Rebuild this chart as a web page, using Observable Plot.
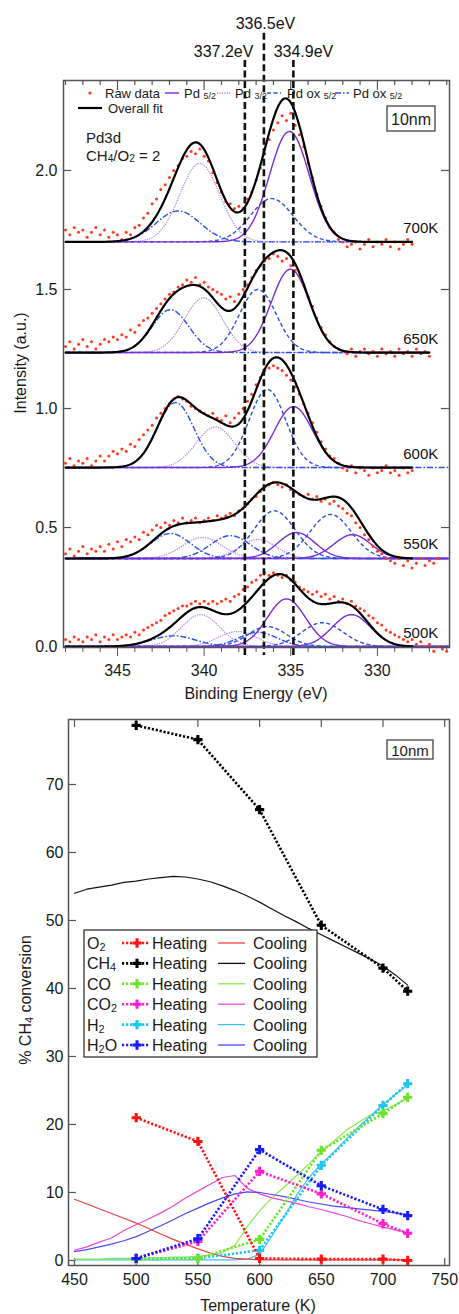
<!DOCTYPE html>
<html><head><meta charset="utf-8">
<script src="https://cdn.jsdelivr.net/npm/d3@7"></script>
<script src="https://cdn.jsdelivr.net/npm/@observablehq/plot@0.6"></script>
<style>
body{margin:0;background:#fff;font-family:"Liberation Sans",Arial,sans-serif}
#wrap{width:459px}
svg{display:block}
</style></head><body><div id="wrap"></div>
<script>
// ---------------- TOP PANEL DATA (XPS Pd3d) ----------------
const temps = ["700K","650K","600K","550K","500K"];
const baselines = [1.70, 1.235, 0.752, 0.37, 0];
const fitEnd = [328, 327, 328, 328, 328];
const compEnd = [328, 327, 328, 325.9, 325.9];
const dashDotEnd = [328, 327, 325.9, 325.9, 325.9];
const rawStart = 348, rawStep = 0.25;

// fitted peaks: [component, centre eV, height, FWHM eV]
const peaks700 = [["p52",335.08,0.464,2.7],["p32",340.25,0.33,2.7],["ox52",336.1,0.182,2.9],["ox32",341.5,0.13,3.0]];
const peaks650 = [["p52",335.02,0.35,2.6],["p32",340.04,0.23,2.6],["ox52",336.9,0.265,2.5],["ox32",341.94,0.18,2.5]];
const peaks600 = [["p52",334.84,0.256,2.6],["p32",339.35,0.17,2.6],["ox52",336.35,0.328,2.5],["ox32",341.65,0.273,2.5]];
const peaks550 = [["p52",334.67,0.109,2.5],["p52",331.44,0.10,2.5],["p32",340.1,0.088,2.7],["p32",336.9,0.08,2.5],["ox52",335.94,0.20,2.8],["ox52",332.7,0.185,2.8],["ox32",341.94,0.105,2.7],["ox32",338.48,0.096,2.7]];
const peaks500 = [["p52",335.25,0.20,2.6],["p52",331.5,0.134,2.6],["p32",340.2,0.134,2.6],["p32",338.08,0.063,2.6],["ox52",336.35,0.084,2.6],["ox52",333.17,0.10,2.8],["ox32",341.77,0.045,3.0],["ox32",336.9,0.06,2.6]];

// raw data, from 348 eV downward in 0.25 eV steps
const raw700 = [1.75,1.73,1.76,1.74, 1.75,1.72,1.74,1.76, 1.73,1.75,1.72,1.74, 1.73,1.71,1.74,1.73,
 1.76,1.77,1.80,1.82, 1.86,1.88,1.92,1.94, 1.97,2.00,2.02,2.05, 2.06,2.08,2.07,2.09, 2.06,2.04,1.99,1.95,
 1.91,1.87,1.86,1.84, 1.85,1.84,1.88,1.91, 1.96,2.01,2.07,2.13, 2.17,2.20,2.23,2.21, 2.24,2.19,2.15,2.10,
 2.03,1.97,1.90,1.85, 1.80,1.76,1.74,1.71, 1.70,1.68,1.69,1.70, 1.67,1.69,1.71,1.68, 1.70,1.69,1.71,1.68,
 1.70,1.67,1.69,1.71, 1.69];
const raw650 = [1.26,1.28,1.25,1.27, 1.29,1.26,1.28,1.25, 1.27,1.29,1.28,1.30, 1.29,1.31,1.30,1.33,
 1.32,1.35,1.37,1.38, 1.40,1.42,1.44,1.46, 1.48,1.49,1.51,1.52, 1.54,1.53,1.55,1.52, 1.53,1.51,1.50,1.49,
 1.48,1.46,1.47,1.45, 1.48,1.50,1.52,1.55, 1.58,1.60,1.62,1.63, 1.65,1.64,1.62,1.63, 1.60,1.58,1.56,1.52,
 1.47,1.43,1.38,1.34, 1.31,1.28,1.26,1.25, 1.24,1.23,1.25,1.22, 1.24,1.25,1.23,1.24, 1.22,1.25,1.23,1.24,
 1.22,1.25,1.23,1.24, 1.22,1.25,1.23,1.24, 1.22];
const raw600 = [0.77,0.79,0.76,0.78, 0.77,0.79,0.76,0.78, 0.80,0.78,0.80,0.82, 0.81,0.83,0.82,0.85,
 0.84,0.87,0.89,0.91, 0.93,0.96,0.98,1.00, 1.02,1.04,1.05,1.04, 1.03,1.01,1.00,0.99, 0.98,0.97,0.98,0.96,
 0.95,0.97,0.94,0.96, 0.98,1.00,1.03,1.06, 1.10,1.13,1.16,1.17, 1.18,1.17,1.16,1.14, 1.12,1.09,1.06,1.02,
 0.98,0.94,0.90,0.86, 0.83,0.80,0.79,0.77, 0.75,0.74,0.76,0.73, 0.75,0.74,0.72,0.75, 0.73,0.74,0.76,0.73,
 0.74,0.72,0.75,0.73, 0.74];
const raw550 = [0.39,0.41,0.38,0.40, 0.42,0.39,0.41,0.40, 0.42,0.40,0.43,0.41, 0.44,0.42,0.45,0.44,
 0.46,0.45,0.48,0.47, 0.49,0.51,0.50,0.52, 0.51,0.53,0.52,0.54, 0.52,0.53,0.54,0.52, 0.53,0.54,0.53,0.55,
 0.54,0.55,0.56,0.55, 0.57,0.58,0.60,0.62, 0.63,0.65,0.67,0.68, 0.69,0.68,0.67,0.68, 0.66,0.65,0.64,0.63,
 0.64,0.62,0.63,0.61, 0.62,0.60,0.61,0.59, 0.58,0.56,0.55,0.52, 0.50,0.47,0.45,0.42, 0.40,0.39,0.37,0.36,
 0.35,0.37,0.34,0.36, 0.33,0.35,0.37,0.34, 0.36,0.35,0.37];
const raw500 = [0.03,0.02,0.04,0.03, 0.02,0.04,0.03,0.05, 0.02,0.04,0.03,0.05, 0.03,0.04,0.05,0.04,
 0.06,0.05,0.07,0.08, 0.09,0.10,0.11,0.13, 0.14,0.15,0.16,0.17, 0.17,0.18,0.19,0.18, 0.19,0.18,0.19,0.18,
 0.19,0.20,0.19,0.21, 0.22,0.24,0.25,0.27, 0.28,0.30,0.31,0.30, 0.31,0.30,0.29,0.30, 0.28,0.27,0.25,0.24,
 0.23,0.22,0.23,0.21, 0.22,0.20,0.21,0.19, 0.20,0.18,0.19,0.17, 0.16,0.15,0.13,0.12, 0.10,0.09,0.07,0.06,
 0.05,0.04,0.03,0.02, 0.03,0.01,0.02,0.00, 0.01,-0.02,0.00,-0.01, -0.02];

const xMajor = [345, 340, 335, 330];
const xMinor = [348,347,346,344,343,342,341,339,338,337,336,334,333,332,331,329,328,327,326];
const yTicksTop = [0, 0.5, 1.0, 1.5, 2.0];
const eVLines = [337.65, 336.55, 334.85];
const eVLineTop = [2.462, 2.576, 2.462];
const eVLabels = ["337.2eV", "336.5eV", "334.9eV"];
const eVLabelX = [338.88, 336.46, 334.27];
const eVLabelY = [2.50, 2.615, 2.50];

// ---------------- BOTTOM PANEL DATA (conversion) ----------------
const gases = ["O2","CH4","CO","CO2","H2","H2O"];
const heatT = [500, 550, 600, 650, 700, 720];
const heatO2  = [21.0, 17.5, 0.3, 0.2, 0.2, 0.0];
const heatCH4 = [78.7, 76.6, 66.3, 49.3, 43.0, 39.6];
const heatCO  = [0.2, 0.3, 3.1, 16.2, 21.6, 24.0];
const heatCO2 = [0.3, 2.8, 13.1, 9.8, 5.4, 4.0];
const heatH2  = [0.2, 0.3, 1.5, 14.0, 22.8, 26.0];
const heatH2O = [0.3, 3.2, 16.3, 11.0, 7.5, 6.6];
const coolT = [450,460,470,480,490,500,510,520,530,540,550,560,570,580,590,600,610,620,630,640,650,660,670,680,690,700,710,720];
const coolO2  = [9.0,8.3,7.6,6.9,6.2,5.5,4.7,3.9,3.1,2.4,1.7,1.1,0.6,0.3,0.2,0.1,0.1,0.1,0.1,0.1,0.1,0.1,0.1,0.1,0.1,0.1,0.1,0.1];
const coolCH4 = [54.0,54.6,54.9,55.2,55.6,55.8,56.1,56.3,56.5,56.4,56.1,55.7,55.1,54.4,53.6,52.7,51.7,50.7,49.8,48.8,47.9,47.0,46.1,45.2,44.3,43.3,42.0,40.5];
const coolCO  = [0.2,0.2,0.2,0.3,0.3,0.3,0.4,0.4,0.5,0.5,0.6,0.8,1.2,2.2,5.0,7.3,9.2,10.8,12.5,14.2,16.0,17.5,19.1,20.3,21.4,22.0,22.9,23.9];
const coolCO2 = [1.5,2.0,2.7,3.3,4.4,5.3,6.1,7.0,8.0,9.2,10.2,11.2,12.2,12.5,10.6,9.8,9.2,8.8,8.4,7.9,7.5,7.0,6.5,5.9,5.4,4.9,4.5,4.1];
const coolH2  = [0.1,0.1,0.1,0.1,0.1,0.1,0.1,0.1,0.1,0.1,0.1,0.1,0.1,0.1,0.2,0.9,3.6,6.5,9.6,12.2,14.2,15.9,17.8,19.6,21.3,22.9,24.4,25.8];
const coolH2O = [1.3,1.6,2.0,2.4,2.9,3.5,4.3,5.1,6.0,6.9,7.7,8.5,9.2,9.8,10.1,10.0,9.7,9.4,9.0,8.6,8.3,8.0,7.8,7.6,7.4,7.2,7.0,6.7];
const xTicksBot = [450, 500, 550, 600, 650, 700, 750];
const yTicksBot = [0, 10, 20, 30, 40, 50, 60, 70];

// ---------------- STYLES ----------------
const FONT = "'Liberation Sans', Arial, Helvetica, sans-serif";
const rawColor = "#ff3a1c";
const compStyle = {
  p32:  {stroke: "#b48be6", strokeWidth: 1.3, strokeDasharray: "1.3,1.1"},
  ox32: {stroke: "#2b50e2", strokeWidth: 1.4, strokeDasharray: "6,2,1.6,2"},
  ox52: {stroke: "#2b50e2", strokeWidth: 1.4, strokeDasharray: "4,2.5"},
  p52:  {stroke: "#7a2cd8", strokeWidth: 1.4, strokeDasharray: null}
};
const heatColor = {O2:"#ff1414", CH4:"#000000", CO:"#6be52a", CO2:"#ff20cc", H2:"#1ec6f2", H2O:"#1a1aff"};
const coolColor = {O2:"#ee4040", CH4:"#111111", CO:"#86e84a", CO2:"#ee48d0", H2:"#3cc2e6", H2O:"#4a4af0"};
const heatDash = "2.2,1.8";

// ---------------- BUILD TOP ----------------
function gauss(x, c, h, f) { const s = f / 2.3548; return h * Math.exp(-((x - c) ** 2) / (2 * s * s)); }
const allPeaks = [peaks700, peaks650, peaks600, peaks550, peaks500];
const allRaw = [raw700, raw650, raw600, raw550, raw500];
const compRows = [], fitRows = [], rawRows = [];
temps.forEach((t, i) => {
  const pk = allPeaks[i];
  pk.forEach((p, j) => {
    const end = p[0] === "ox32" ? dashDotEnd[i] : compEnd[i];
    for (let k = 0; 348 - k * 0.05 >= end - 1e-9; k++) {
      const x = 348 - k * 0.05;
      compRows.push({key: t + "-" + j, type: p[0], x, y: baselines[i] + gauss(x, p[1], p[2], p[3])});
    }
  });
  for (let k = 0; 348 - k * 0.05 >= fitEnd[i] - 1e-9; k++) {
    const x = 348 - k * 0.05;
    fitRows.push({t, x, y: baselines[i] + d3.sum(pk, p => gauss(x, p[1], p[2], p[3]))});
  }
  allRaw[i].forEach((v, k) => rawRows.push({t, x: rawStart - k * rawStep, y: v}));
});

const topW = 459, topH = 708, tML = 63, tMR = 10, tMT = 80, tMB = 61;
const tPW = topW - tML - tMR, tPH = topH - tMT - tMB;
const frameColor = "#555";

const compMarks = ["p32", "ox32", "ox52", "p52"].map(type =>
  Plot.line(compRows.filter(d => d.type === type), {x: "x", y: "y", z: "key", strokeLinecap: "butt", ...compStyle[type]}));

const topSvg = Plot.plot({
  width: topW, height: topH,
  marginLeft: tML, marginRight: tMR, marginTop: tMT, marginBottom: tMB,
  style: {fontFamily: FONT, fontSize: "16px", color: "#1a1a1a", background: "white", overflow: "visible"},
  x: {domain: [348.116, 325.84], label: null},
  y: {domain: [-0.004, 2.378], label: null},
  marks: [
    Plot.axisX({ticks: xMajor, tickSize: 9, tickPadding: 8, label: null, stroke: frameColor, fontSize: 16}),
    Plot.axisX({ticks: xMinor, tickSize: 5, tickFormat: () => "", label: null, stroke: frameColor}),
    Plot.axisY({ticks: yTicksTop, tickSize: 0, tickPadding: 6, tickFormat: d3.format(".1f"), label: null, fontSize: 16}),
    Plot.tickY(yTicksTop, {y: d => d, insetRight: tPW - 8, stroke: frameColor, strokeWidth: 1.2}),
    Plot.tickY(yTicksTop, {y: d => d, insetLeft: tPW - 8, stroke: frameColor, strokeWidth: 1.2}),
    Plot.tickX(xMajor, {x: d => d, insetBottom: tPH - 10, stroke: frameColor, strokeWidth: 1.2}),
    Plot.tickX(xMinor, {x: d => d, insetBottom: tPH - 5, stroke: frameColor, strokeWidth: 1.2}),
    ...compMarks,
    Plot.dot(rawRows, {x: "x", y: "y", r: 1.5, fill: rawColor, stroke: null}),
    Plot.line(fitRows, {x: "x", y: "y", z: "t", stroke: "#000", strokeWidth: 2.2}),
    Plot.ruleX(eVLines, {x: d => d, y1: (d, i) => eVLineTop[i], y2: -0.038, stroke: "#111", strokeWidth: 2.6, strokeDasharray: "7,3.5", strokeLinecap: "butt"}),
    Plot.text(eVLabels, {x: (d, i) => eVLabelX[i], y: (d, i) => eVLabelY[i], text: d => d, fontSize: 16, textAnchor: "middle", fill: "#111"}),
    Plot.text(temps, {x: 327.5, y: (d, i) => baselines[i] + 0.058, text: d => d, fontSize: 15, textAnchor: "middle", fill: "#111"}),
    Plot.frame({stroke: frameColor, strokeWidth: 1.5})
  ]
});

function subText(sel, x, y, parts, size, anchor, rotate) {
  const t = sel.append("text").attr("x", x).attr("y", y).attr("font-size", size)
    .attr("dominant-baseline", "central").attr("text-anchor", anchor || "start")
    .attr("fill", "#1a1a1a").attr("font-family", FONT);
  if (rotate) t.attr("transform", `rotate(${rotate},${x},${y})`);
  parts.forEach(([s, sub]) => {
    const ts = t.append("tspan").text(s);
    if (sub) ts.attr("font-size", size * 0.68).attr("baseline-shift", "-32%");
  });
  return t;
}
function legLine(g, x1, x2, y, st) {
  g.append("line").attr("x1", x1).attr("x2", x2).attr("y1", y).attr("y2", y)
    .attr("stroke", st.stroke).attr("stroke-width", st.strokeWidth)
    .attr("stroke-dasharray", st.strokeDasharray || null);
}

const ts = d3.select(topSvg);
const tl = ts.append("g");
tl.append("circle").attr("cx", 90).attr("cy", 93).attr("r", 1.6).attr("fill", rawColor);
subText(tl, 105, 93, [["Raw data", 0]], 13);
legLine(tl, 165, 179, 93, compStyle.p52);
subText(tl, 184, 93, [["Pd ", 0], ["5/2", 1]], 13);
legLine(tl, 217, 231, 93, compStyle.p32);
subText(tl, 235, 93, [["Pd ", 0], ["3/2", 1]], 13);
legLine(tl, 267, 281, 93, compStyle.ox52);
subText(tl, 287, 93, [["Pd ox ", 0], ["5/2", 1]], 13);
legLine(tl, 335, 349, 93, compStyle.ox32);
subText(tl, 353, 93, [["Pd ox ", 0], ["5/2", 1]], 13);
legLine(tl, 78, 102, 108, {stroke: "#000", strokeWidth: 2.2});
subText(tl, 108, 108, [["Overall fit", 0]], 13);
tl.append("rect").attr("x", 387).attr("y", 106).attr("width", 48).attr("height", 25)
  .attr("fill", "white").attr("stroke", "#333").attr("stroke-width", 1.2);
subText(tl, 411, 118.5, [["10nm", 0]], 16, "middle");
subText(tl, 86, 137, [["Pd3d", 0]], 15);
subText(tl, 86, 155, [["CH", 0], ["4", 1], ["/O", 0], ["2", 1], [" = 2", 0]], 15);
subText(tl, 256, 693, [["Binding Energy (eV)", 0]], 16, "middle");
subText(tl, 20, 363, [["Intensity (a.u.)", 0]], 16, "middle", -90);

// ---------------- BUILD BOTTOM ----------------
const botW = 459, botH = 606, bML = 68, bMR = 10, bMT = 11, bMB = 49;
const bPW = botW - bML - bMR, bPH = botH - bMT - bMB;
const heatData = {O2: heatO2, CH4: heatCH4, CO: heatCO, CO2: heatCO2, H2: heatH2, H2O: heatH2O};
const coolData = {O2: coolO2, CH4: coolCH4, CO: coolCO, CO2: coolCO2, H2: coolH2, H2O: coolH2O};
const drawOrder = ["CH4", "H2", "CO", "CO2", "H2O", "O2"];
const coolMarks = drawOrder.map(g =>
  Plot.line(coolT.map((t, i) => ({t, v: coolData[g][i]})), {x: "t", y: "v", stroke: coolColor[g], strokeWidth: 1.2}));
const heatMarks = drawOrder.flatMap(g => {
  const rows = heatT.map((t, i) => ({t, v: heatData[g][i]}));
  return [
    Plot.line(rows, {x: "t", y: "v", stroke: heatColor[g], strokeWidth: 2.6, strokeDasharray: heatDash, strokeLinecap: "butt"}),
    Plot.dot(rows, {x: "t", y: "v", symbol: "cross", r: 3.9, fill: heatColor[g], stroke: null})
  ];
});

const botSvg = Plot.plot({
  width: botW, height: botH,
  marginLeft: bML, marginRight: bMR, marginTop: bMT, marginBottom: bMB,
  style: {fontFamily: FONT, fontSize: "16px", color: "#1a1a1a", background: "white", overflow: "visible"},
  x: {domain: [445.14, 753.9], label: null},
  y: {domain: [-0.74, 79.56], label: null},
  marks: [
    Plot.axisX({ticks: xTicksBot, tickSize: 0, tickPadding: 8, label: null, fontSize: 16}),
    Plot.axisY({ticks: yTicksBot, tickSize: 0, tickPadding: 5, label: null, fontSize: 16}),
    Plot.tickY(yTicksBot, {y: d => d, insetRight: bPW - 8, stroke: frameColor, strokeWidth: 1.2}),
    Plot.tickX(xTicksBot, {x: d => d, insetTop: bPH - 7, stroke: frameColor, strokeWidth: 1.2}),
    Plot.tickX(xTicksBot, {x: d => d, insetBottom: bPH - 8, stroke: frameColor, strokeWidth: 1.2}),
    ...coolMarks,
    ...heatMarks,
    Plot.frame({stroke: frameColor, strokeWidth: 1.5})
  ]
});

const bs = d3.select(botSvg);
const bl = bs.append("g");
bl.append("rect").attr("x", 387).attr("y", 32).attr("width", 46).attr("height", 19)
  .attr("fill", "white").attr("stroke", "#333").attr("stroke-width", 1.2);
subText(bl, 410, 41.5, [["10nm", 0]], 15, "middle");
bl.append("rect").attr("x", 84).attr("y", 222).attr("width", 233).attr("height", 127)
  .attr("fill", "white").attr("stroke", "#333").attr("stroke-width", 1.3);
const gasParts = {
  O2: [["O", 0], ["2", 1]], CH4: [["CH", 0], ["4", 1]], CO: [["CO", 0]],
  CO2: [["CO", 0], ["2", 1]], H2: [["H", 0], ["2", 1]], H2O: [["H", 0], ["2", 1], ["O", 0]]
};
gases.forEach((g, i) => {
  const y = 235 + i * 20.4;
  subText(bl, 87, y, gasParts[g], 16);
  legLine(bl, 122, 149, y, {stroke: heatColor[g], strokeWidth: 2.6, strokeDasharray: heatDash});
  bl.append("path").attr("d", d3.symbol(d3.symbolCross, Math.PI * 3.9 * 3.9)())
    .attr("transform", `translate(137,${y})`).attr("fill", heatColor[g]);
  subText(bl, 152, y, [["Heating", 0]], 16);
  legLine(bl, 218, 245, y, {stroke: coolColor[g], strokeWidth: 1.3});
  subText(bl, 253, y, [["Cooling", 0]], 16);
});
subText(bl, 258, 597, [["Temperature (K)", 0]], 16, "middle");
subText(bl, 25, 292, [["% CH", 0], ["4", 1], [" conversion", 0]], 16, "middle", -90);

const wrap = document.getElementById("wrap");
wrap.appendChild(topSvg);
wrap.appendChild(botSvg);
</script></body></html>
